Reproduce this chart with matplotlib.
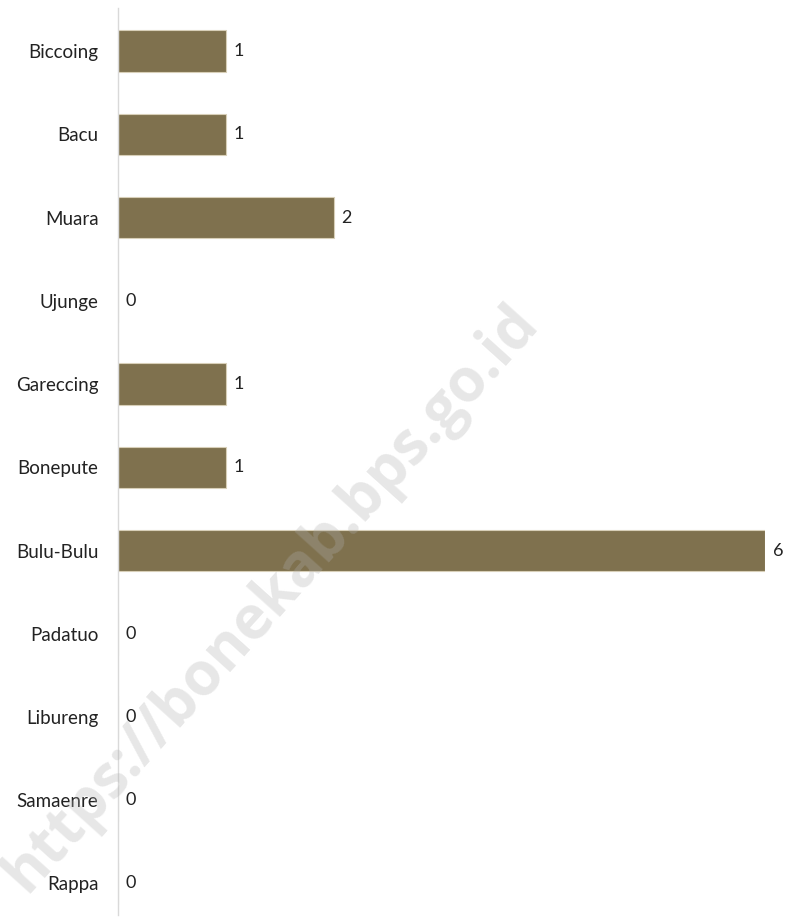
import matplotlib
matplotlib.use("Agg")
import matplotlib.pyplot as plt

# -----------------------------
# DATA
# -----------------------------

villages = [
    "Biccoing", "Bacu", "Muara", "Ujunge", "Gareccing", "Bonepute",
    "Bulu-Bulu", "Padatuo", "Libureng", "Samaenre", "Rappa",
]
counts = [1, 1, 2, 0, 1, 1, 6, 0, 0, 0, 0]

bar_color = "#7f714e"

plt.rcParams["font.family"] = ["Lato", "DejaVu Sans"]

fig = plt.figure(figsize=(7.87, 9.21), dpi=100)
ax = fig.add_axes([118 / 787, 1 - 915 / 921, (765 - 118) / 787, (915 - 8) / 921])

pos = list(range(len(villages)))

ax.barh(
    pos,
    counts,
    height=0.5,
    color=bar_color,
    edgecolor="#d8cfb8",
    linewidth=0.8
)

for p, c in zip(pos, counts):
    ax.text(
        c + 0.07,
        p,
        str(c),
        va="center",
        ha="left",
        fontsize=13,
        color="#222222"
    )

ax.set_yticks(pos)
ax.set_yticklabels(villages, fontsize=13.5, color="#222222")
ax.set_ylim(10.38, -0.52)
ax.set_xlim(0, 6)

ax.set_xticks([])
ax.tick_params(axis="y", length=0, pad=14)
for s in ["top", "right", "bottom"]:
    ax.spines[s].set_visible(False)
ax.spines["left"].set_color("#d9d9d9")
ax.spines["left"].set_linewidth(1.0)

# watermark
fig.text(
    0.345, 0.35,
    "https://bonekab.bps.go.id",
    rotation=48,
    fontsize=43,
    fontweight="bold",
    family=["Open Sans", "DejaVu Sans"],
    color="#b0b0b0",
    alpha=0.3,
    ha="center",
    va="center",
    zorder=10
)

fig.savefig("out.png", dpi=100)
